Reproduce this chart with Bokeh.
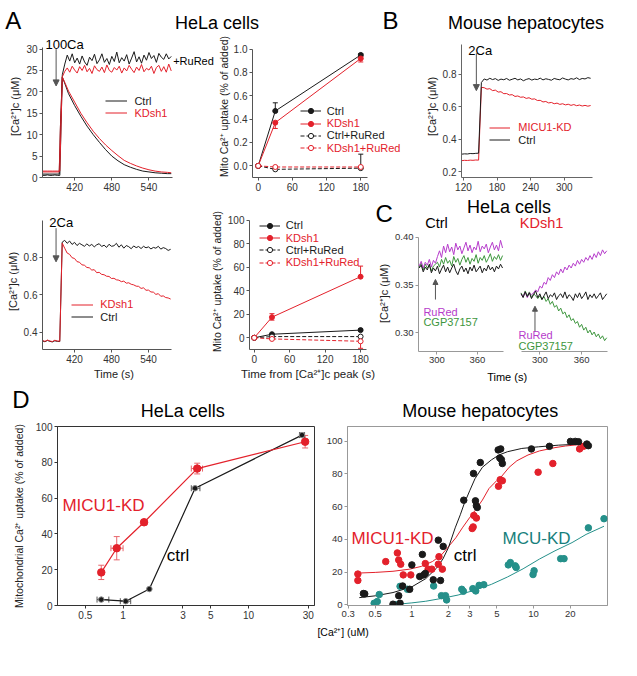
from bokeh.plotting import figure
from bokeh.models import (Label, Legend, LegendItem, Arrow, NormalHead, Whisker,
                          TeeHead, ColumnDataSource, FixedTicker, Range1d)
from bokeh.core.properties import value
from bokeh.layouts import row, column
from bokeh.embed import file_html
from bokeh.resources import INLINE

FONT = "Liberation Sans"
RED = "#e3212b"
BLK = "#1a1a1a"
MAG = "#b63ccb"
GRN = "#3d963d"
TEAL = "#25908a"
TEAL_TXT = "#17807c"

# ---------------- data ----------------
# A, top left: [Ca2+]c (uM) after 100 uM Ca2+
a1_t = [368, 380, 395, 397, 400, 405, 410, 420, 430, 440, 450, 460, 470, 480, 490, 500,
        510, 520, 530, 540, 550, 560, 570, 576]
a1_ctrl = [0.8, 0.8, 0.8, 12, 23.5, 21.6, 19.6, 16.8, 14.3, 12.0, 10.0, 8.2, 6.5, 5.0,
           3.9, 3.0, 2.4, 1.9, 1.5, 1.3, 1.1, 1.0, 0.9, 0.9]
a1_kd = [1.3, 1.3, 1.3, 12, 23.5, 21.9, 20.2, 17.6, 15.0, 12.8, 10.8, 9.1, 7.6, 6.3,
         5.1, 4.0, 3.3, 2.7, 2.2, 1.8, 1.5, 1.3, 1.2, 1.1]
a1_rr_t0 = 368
a1_rr_dt = 4
a1_rr_ctrl = [0.5, 0.5, 0.6, 0.5, 0.5, 0.6, 0.5, 0.5,
              24.0, 26.5, 28.6, 27.2, 28.9, 26.8, 27.9, 26.5, 28.4, 27.0,
              26.2, 28.1, 27.3, 28.8, 26.6, 27.5, 28.9, 26.9, 27.8, 26.4,
              28.3, 27.1, 29.3, 26.8, 28.0, 27.2, 28.7, 26.5, 27.9, 29.4,
              27.0, 28.2, 26.7, 28.6, 27.4, 29.2, 27.8, 28.5, 26.9, 29.0,
              28.1, 27.6, 28.9, 27.7, 28.3]
a1_rr_kd = [1.5, 1.5, 1.5, 1.5, 1.5, 1.5, 1.5, 1.5,
            23.5, 24.8, 25.6, 24.6, 26.0, 25.1, 24.4, 25.9, 25.0, 26.2,
            24.7, 25.5, 24.3, 26.1, 25.2, 24.8, 25.8, 24.5, 26.3, 25.0,
            24.6, 25.7, 25.1, 26.0, 24.4, 25.6, 24.9, 26.2, 25.3, 24.5,
            25.8, 25.0, 26.4, 24.7, 25.5, 25.1, 26.0, 24.3, 25.7, 26.2,
            24.8, 25.9, 24.6, 26.5, 24.9]
a1_arrow = (390, 30.0, 21.4)

# A, right: mito Ca2+ uptake vs time from peak
up_t = [0, 30, 180]
a2_ctrl = [0, 0.47, 0.95]
a2_ctrl_err = ([0, 0, 0.01], [0, 0.07, 0.01])
a2_kd = [0, 0.37, 0.92]
a2_kd_err = ([0, 0.05, 0.03], [0, 0, 0.02])
a2_ctrl_rr = [0, -0.03, -0.02]
a2_ctrl_rr_err = ([0, 0, 0], [0, 0, 0.12])
a2_kd_rr = [0, -0.01, -0.01]

a4_ctrl = [0, 3, 6.5]
a4_ctrl_err = ([0, 0, 0], [0, 0, 1])
a4_kd = [0, 17.5, 52]
a4_kd_err = ([0, 2.5, 0], [0, 3, 9])
a4_ctrl_rr = [0, 1, 1]
a4_kd_rr = [0, -1, -3]
a4_kd_rr_err = ([0, 0, 6], [0, 0, 0])

# A, bottom left: [Ca2+]c (uM) after 2 uM Ca2+
a3_t0 = 368
a3_dt = 4
a3_ctrl = [0.352, 0.348, 0.355, 0.350, 0.347, 0.353, 0.350, 0.349, 0.880,
           0.890, 0.874, 0.886, 0.868, 0.879, 0.862, 0.874, 0.866, 0.858, 0.871,
           0.860, 0.868, 0.855, 0.866, 0.872, 0.857, 0.864, 0.852, 0.869, 0.858,
           0.861, 0.874, 0.853, 0.866, 0.848, 0.862, 0.856, 0.845, 0.860, 0.851,
           0.857, 0.846, 0.858, 0.850, 0.855, 0.844, 0.852, 0.848, 0.858, 0.843,
           0.851, 0.846, 0.836, 0.842]
a3_kd = [0.355, 0.350, 0.357, 0.352, 0.349, 0.356, 0.352, 0.351, 0.875,
         0.848, 0.822, 0.815, 0.797, 0.793, 0.776, 0.773, 0.759, 0.757, 0.745,
         0.743, 0.731, 0.733, 0.717, 0.719, 0.708, 0.706, 0.698, 0.697, 0.686,
         0.687, 0.679, 0.677, 0.669, 0.672, 0.661, 0.663, 0.655, 0.652, 0.645,
         0.644, 0.633, 0.636, 0.623, 0.624, 0.614, 0.613, 0.601, 0.605, 0.591,
         0.593, 0.584, 0.582, 0.576]
a3_arrow = (390, 0.955, 0.775)

# B: mouse hepatocytes, [Ca2+]c (uM)
b_t0 = 117
b_dt = 5
b_ctrl = [0.308, 0.310, 0.309, 0.312, 0.311, 0.313, 0.314, 0.750,
          0.772, 0.765, 0.776, 0.768, 0.774, 0.763, 0.771, 0.767, 0.775, 0.764,
          0.770, 0.776, 0.766, 0.772, 0.761, 0.769, 0.774, 0.765, 0.771, 0.768,
          0.777, 0.766, 0.773, 0.769, 0.764, 0.775, 0.770, 0.767, 0.778, 0.771,
          0.766, 0.774, 0.770, 0.779, 0.768, 0.775, 0.772, 0.780, 0.776]
b_kd = [0.268, 0.270, 0.269, 0.271, 0.270, 0.272, 0.271, 0.720,
        0.718, 0.709, 0.712, 0.700, 0.703, 0.691, 0.693, 0.681, 0.682, 0.673,
        0.675, 0.664, 0.667, 0.659, 0.661, 0.652, 0.656, 0.647, 0.649, 0.639,
        0.640, 0.630, 0.633, 0.624, 0.627, 0.619, 0.623, 0.615, 0.619, 0.612,
        0.616, 0.609, 0.614, 0.607, 0.611, 0.605, 0.609, 0.604, 0.608]
b_arrow = (143, 0.93, 0.70)

# C: HeLa, RuRed / CGP37157 additions, [Ca2+]c (uM)
c_dt = 3
cl_t0 = 274
cl_ctrl = [0.368, 0.371, 0.364, 0.369, 0.366, 0.372, 0.363, 0.368, 0.365, 0.370,
           0.362, 0.367, 0.371, 0.364, 0.369, 0.363, 0.368, 0.372, 0.365, 0.361,
           0.367, 0.370, 0.364, 0.368, 0.362, 0.369, 0.365, 0.371, 0.364, 0.367,
           0.370, 0.363, 0.368, 0.365, 0.371, 0.366, 0.369, 0.364, 0.370, 0.367,
           0.372, 0.368]
cl_rured = [0.370, 0.375, 0.368, 0.374, 0.371, 0.377, 0.369, 0.376, 0.373,
            0.380, 0.386, 0.379, 0.391, 0.384, 0.393, 0.385, 0.390, 0.382, 0.394,
            0.387, 0.391, 0.383, 0.389, 0.395, 0.386, 0.392, 0.384, 0.390, 0.387,
            0.396, 0.385, 0.391, 0.388, 0.393, 0.384, 0.390, 0.395, 0.387, 0.392,
            0.386, 0.397, 0.389]
cl_cgp = [0.369, 0.373, 0.366, 0.372, 0.368, 0.371, 0.365, 0.370, 0.372,
          0.374, 0.369, 0.377, 0.372, 0.379, 0.373, 0.376, 0.370, 0.380, 0.374,
          0.378, 0.371, 0.377, 0.381, 0.374, 0.379, 0.372, 0.378, 0.375, 0.382,
          0.373, 0.379, 0.376, 0.381, 0.374, 0.378, 0.383, 0.375, 0.380, 0.377,
          0.382, 0.376, 0.381]
cr_t0 = 273
cr_ctrl = [0.341, 0.337, 0.343, 0.338, 0.342, 0.336, 0.340, 0.344, 0.337, 0.341,
           0.335, 0.339, 0.343, 0.336, 0.340, 0.338, 0.342, 0.335, 0.339, 0.341,
           0.337, 0.343, 0.336, 0.340, 0.338, 0.334, 0.341, 0.337, 0.342, 0.336,
           0.339, 0.343, 0.335, 0.340, 0.337, 0.341, 0.336, 0.339, 0.342, 0.335,
           0.338, 0.341]
cr_rured = [0.341, 0.338, 0.343, 0.337, 0.342, 0.340,
            0.342, 0.345, 0.343, 0.349, 0.347, 0.353, 0.351, 0.358, 0.355, 0.361,
            0.358, 0.364, 0.361, 0.367, 0.363, 0.369, 0.366, 0.371, 0.368, 0.373,
            0.370, 0.376, 0.372, 0.377, 0.374, 0.379, 0.376, 0.381, 0.377, 0.383,
            0.379, 0.385, 0.381, 0.387, 0.383, 0.386]
cr_cgp = [0.342, 0.338, 0.344, 0.339, 0.343, 0.337, 0.341, 0.339,
          0.336, 0.339, 0.335, 0.338, 0.333, 0.336, 0.330, 0.333, 0.327, 0.329,
          0.323, 0.326, 0.320, 0.322, 0.316, 0.319, 0.313, 0.315, 0.310, 0.312,
          0.306, 0.309, 0.303, 0.306, 0.300, 0.303, 0.298, 0.301, 0.296, 0.299,
          0.294, 0.297, 0.292, 0.295]
cl_arrow = (298, 0.335, 0.356)
cr_arrow = (293, 0.301, 0.328)

# D left: HeLa, uptake (% of added) vs [Ca2+] (uM)
dl_kd_x = [0.67, 0.89, 1.47, 3.9, 28.3]
dl_kd_y = [18.5, 32, 46.5, 76.5, 91.5]
dl_kd_yerr = [4, 6.5, 1.5, 3, 3.5]
dl_kd_xerr = ([0, 0.09, 0.05, 0.4, 1.0], [0, 0.11, 0.08, 0.4, 1.2])
dl_ctrl_x = [0.67, 1.05, 1.62, 3.75, 26.7]
dl_ctrl_y = [3.3, 2.4, 9.2, 65.5, 95.2]
dl_ctrl_xerr = ([0.05, 0.1, 0, 0.25, 1.2], [0.1, 0.1, 0, 0.35, 1.3])

# D right: mouse hepatocytes, individual points and fitted curves
dr_ctrl_x = [0.40, 0.41, 0.70, 0.78, 0.80, 0.84, 0.96, 1.0, 1.16, 1.22, 1.25, 1.29, 1.5,
             1.65, 1.72, 1.81, 2.67, 3.21, 3.33, 3.39, 3.45, 3.65, 5.12, 5.37, 5.28,
             5.44, 5.54, 9.6, 13.5, 20.1, 22.0, 23.4, 27.4, 28.2]
dr_ctrl_y = [6.9, 6.7, 0.4, 5.6, 1.0, 11.5, 9.5, 24.4, 17.3, 30.8, 18.3, 19.2, 15.3,
             39.5, 14.9, 35.7, 63.9, 80.2, 63.5, 60.5, 59.5, 86.9, 94.6, 95.2, 89.7,
             88.7, 86.3, 95.2, 96.8, 99.8, 99.8, 99.6, 98.2, 97.2]
dr_kd_x = [0.36, 0.36, 0.61, 0.76, 0.78, 0.81, 0.85, 0.98, 1.29, 1.36, 1.46, 1.65, 1.67,
           1.78, 3.13, 3.19, 3.23, 3.39, 5.15, 5.32, 5.54, 10.9, 14.4, 23.9, 25.7]
dr_kd_y = [18.8, 14.9, 26.4, 31.7, 27.4, 24.8, 18.3, 18.3, 25.2, 21.8, 21.8, 24.8, 29.4,
           21.8, 46.6, 47.6, 54.6, 53.0, 72.4, 76.4, 75.8, 81.0, 86.3, 95.2, 96.8]
dr_mcu_x = [0.49, 0.52, 0.54, 0.74, 0.80, 0.92, 1.51, 1.75, 1.89, 1.93, 2.57, 2.65, 3.17,
            3.35, 3.57, 3.9, 6.2, 6.45, 7.07, 7.2, 9.9, 10.1, 16.7, 17.8, 28.2, 37.9]
dr_mcu_y = [1.0, 2.0, 6.3, 0.0, 11.3, 9.5, 11.5, 5.6, 5.6, 3.0, 9.5, 8.3, 9.9, 8.5, 11.9,
            12.3, 24.4, 25.8, 23.8, 22.8, 18.5, 20.8, 28.2, 28.2, 47.0, 52.6]
fit_ctrl_x = [0.37, 0.5, 0.7, 1.0, 1.3, 1.6, 1.8, 2.0, 2.27, 2.5, 2.7, 3.0, 3.3, 3.8, 4.5,
              5.2, 6.1, 8, 11, 16, 22, 28]
fit_ctrl_y = [4.4, 5.5, 7.5, 11, 16, 22.5, 28, 35, 47, 55, 62, 70, 77, 84, 88.5, 91.5,
              93.5, 95.5, 96.5, 97.5, 98, 98]
fit_kd_x = [0.36, 0.5, 0.7, 0.96, 1.2, 1.48, 1.75, 2.0, 2.3, 2.6, 3.0, 3.3, 3.8, 4.3, 5.0,
            5.4, 6.3, 7.3, 9, 11.2, 15, 18.3, 25, 28]
fit_kd_y = [19.4, 19.8, 20.5, 21.8, 23.5, 26.5, 30.5, 35.5, 41, 47, 53.5, 57.5, 64, 71,
            76, 78, 84, 88, 91.5, 94, 96, 97, 98, 98.5]
fit_mcu_x = [0.8, 1.0, 1.3, 1.78, 2.4, 3.3, 4.5, 6.1, 8.2, 11.2, 15, 20.7, 27, 37.9]
fit_mcu_y = [0.5, 1.2, 2.2, 4, 6, 9, 12.5, 17, 22, 28, 33, 38, 43, 48]

# ---------------- helpers ----------------
S = 0.975
FRAMES = {}


def sc(v):
    return int(round(v * S))


def make_fig(cell, frame, xr=(0, 1), yr=(0, 1), x_log=False, axes=True, yaxis=True, ext=None):
    """cell: canvas rect; frame: rect where the ranges xr/yr sit (axes extent);
    ext: larger plotting area (same scale) so that texts are not clipped."""
    cx0, cy0, cx1, cy1 = cell
    fx0, fy0, fx1, fy1 = frame
    ex0, ey0, ex1, ey1 = ext if ext else frame
    kx = (xr[1] - xr[0]) / (fx1 - fx0)
    ky = (yr[1] - yr[0]) / (fy1 - fy0)
    xr2 = (xr[0] - (fx0 - ex0) * kx, xr[1] + (ex1 - fx1) * kx)
    yr2 = (yr[0] - (ey1 - fy1) * ky, yr[1] + (fy0 - ey0) * ky)
    kw = {}
    if not axes:
        kw = dict(x_axis_location=None, y_axis_location=None)
    elif not yaxis:
        kw = dict(y_axis_location=None)
    p = figure(width=sc(cx1) - sc(cx0), height=sc(cy1) - sc(cy0), title=None,
               x_range=Range1d(*(xr if x_log else xr2)), y_range=Range1d(*yr2),
               x_axis_type="log" if x_log else "linear",
               output_backend="svg", toolbar_location=None,
               min_border_left=sc(ex0) - sc(cx0), min_border_right=sc(cx1) - sc(ex1),
               min_border_top=sc(ey0) - sc(cy0), min_border_bottom=sc(cy1) - sc(ey1), **kw)
    p.outline_line_color = None
    p.grid.visible = False
    if ext and axes:
        p.xaxis.bounds = xr
        if yaxis:
            p.yaxis.bounds = yr
    FRAMES[id(p)] = (ex0, ey0, ex1, ey1)
    return p


def style_axes(p, xticks=None, yticks=None, color="#555", size="10px",
               xlabel=None, ylabel=None, lsize="11px", overrides=None, yoverrides=None):
    for ax in p.axis:
        ax.axis_line_color = color
        ax.major_tick_line_color = color
        ax.minor_tick_line_color = None
        ax.major_tick_out = 3
        ax.major_tick_in = 0
        ax.major_label_text_font = FONT
        ax.major_label_text_font_size = size
        ax.major_label_text_color = "#333"
        ax.major_label_standoff = 2
        ax.axis_label_text_font = FONT
        ax.axis_label_text_font_style = "normal"
        ax.axis_label_text_font_size = lsize
        ax.axis_label_text_color = "#222"
        ax.axis_label_standoff = 2
    if xticks is not None:
        p.xaxis.ticker = FixedTicker(ticks=xticks)
    if yticks is not None:
        p.yaxis.ticker = FixedTicker(ticks=yticks)
    if xlabel:
        p.xaxis.axis_label = xlabel
    if ylabel:
        p.yaxis.axis_label = ylabel
    if overrides:
        p.xaxis.major_label_overrides = overrides
    if yoverrides:
        p.yaxis.major_label_overrides = yoverrides


def put(p, txt, X, Y, size=12, color="black", align="left", angle=0):
    fx0, fy0, fx1, fy1 = FRAMES[id(p)]
    p.add_layout(Label(x=(X - fx0) * S, y=(fy1 - Y) * S, x_units="screen", y_units="screen",
                       text=txt, text_font=FONT, text_font_size=f"{size}px",
                       text_color=color, text_align=align, text_baseline="middle",
                       angle=angle))


def leg(p, rends, label, X, Y, color, gw=21, standoff=6, size=11):
    fx0, fy0, fx1, fy1 = FRAMES[id(p)]
    h = 13
    lg = Legend(items=[LegendItem(label=value(label), renderers=rends)],
                location=((X - fx0) * S, (fy1 - Y) * S - h / 2),
                padding=0, margin=0, spacing=0, glyph_width=gw, glyph_height=h,
                label_height=h, label_width=10, label_standoff=standoff,
                label_text_font=FONT, label_text_font_size=f"{size}px",
                label_text_color=color, label_text_baseline="middle",
                background_fill_alpha=0, border_line_alpha=0)
    p.add_layout(lg)


def whisk(p, xs, ys, lo, hi, color, dim="height", head=5):
    b, l, u = [], [], []
    for x, y, a, c in zip(xs, ys, lo, hi):
        if a > 0 or c > 0:
            if dim == "height":
                b.append(x); l.append(y - a); u.append(y + c)
            else:
                b.append(y); l.append(x - a); u.append(x + c)
    if not b:
        return
    src = ColumnDataSource(dict(base=b, lower=l, upper=u))
    p.add_layout(Whisker(base="base", lower="lower", upper="upper", source=src,
                         dimension=dim, line_color=color, line_width=1,
                         upper_head=TeeHead(size=head, line_color=color, line_width=1),
                         lower_head=TeeHead(size=head, line_color=color, line_width=1)))


def arrow(p, spec, color="#555", size=6):
    x, y0, y1 = spec
    p.add_layout(Arrow(end=NormalHead(size=size, fill_color=color, line_color=color, line_width=1),
                       x_start=x, y_start=y0, x_end=x, y_end=y1,
                       line_color=color, line_width=1))


def grid_t(t0, dt, vals):
    return [t0 + dt * i for i in range(len(vals))]


# ---------------- header ----------------
h1 = make_fig((0, 0, 637, 35), (0, 0, 637, 35), axes=False)
put(h1, "A", 13, 21, 24, align="center")
put(h1, "HeLa cells", 222, 23, 18, align="center")
put(h1, "B", 400, 21, 24, align="center")
put(h1, "Mouse hepatocytes", 539, 23, 18, align="center")

# ---------------- A1 ----------------
# (plots in one row share top/bottom borders, so all row-1 plots use the same extents)
A1 = make_fig((0, 35, 219, 199), (43, 48, 176, 182), xr=(368, 578), yr=(0, 30.45),
              ext=(43, 36, 219, 182))
style_axes(A1, xticks=[420, 480, 540], yticks=[0, 5, 10, 15, 20, 25, 30],
           ylabel="[Ca²⁺]c (μM)")
r_c = A1.line(a1_t, a1_ctrl, line_color=BLK, line_width=1)
r_k = A1.line(a1_t, a1_kd, line_color=RED, line_width=1)
A1.line(grid_t(a1_rr_t0, a1_rr_dt, a1_rr_ctrl), a1_rr_ctrl, line_color=BLK, line_width=1)
A1.line(grid_t(a1_rr_t0, a1_rr_dt, a1_rr_kd), a1_rr_kd, line_color=RED, line_width=1)
arrow(A1, a1_arrow)
put(A1, "100Ca", 46, 46, 13)
put(A1, "+RuRed", 177, 63, 11)
leg(A1, [r_c], "Ctrl", 108, 104, BLK, gw=22, standoff=7)
leg(A1, [r_k], "KDsh1", 108, 116, RED, gw=22, standoff=7)


def uptake(p, series, legend_pos):
    X, Y0, dy = legend_pos
    for i, (ys, err, color, dash, filled, lab) in enumerate(series):
        rl = p.line(up_t, ys, line_color=color, line_width=1, line_dash=dash)
        if err is not None:
            whisk(p, up_t, ys, err[0], err[1], color)
        rs = p.scatter(up_t, ys, marker="circle", size=5, line_color=color,
                       fill_color=color if filled else "white", line_width=1)
        leg(p, [rl, rs], lab, X, Y0 + i * dy, color)


# ---------------- A2 ----------------
A2 = make_fig((219, 35, 430, 199), (253, 50, 375, 182), xr=(-10, 192), yr=(-0.1, 1.0),
              ext=(253, 36, 430, 182))
style_axes(A2, xticks=[0, 60, 120, 180], yticks=[0, 0.2, 0.4, 0.6, 0.8, 1.0],
           ylabel="Mito Ca²⁺ uptake (% of added)", lsize="10.5px",
           yoverrides={0: "0.0", 1: "1.0"})
A2.yaxis.axis_label_standoff = 1
uptake(A2, [
    (a2_ctrl, a2_ctrl_err, BLK, "solid", True, "Ctrl"),
    (a2_kd, a2_kd_err, RED, "solid", True, "KDsh1"),
    (a2_ctrl_rr, a2_ctrl_rr_err, BLK, "4 2", False, "Ctrl+RuRed"),
    (a2_kd_rr, None, RED, "4 2", False, "KDsh1+RuRed"),
], (302, 114, 12.7))

# ---------------- B ----------------
B = make_fig((430, 35, 637, 199), (473, 45, 607, 182), xr=(116.5, 349.6), yr=(0.164, 0.986),
             ext=(473, 36, 630, 182))
style_axes(B, xticks=[120, 180, 240, 300], yticks=[0.2, 0.4, 0.6, 0.8], color="#666",
           ylabel="[Ca²⁺]c (μM)")
rb_k = B.line(grid_t(b_t0, b_dt, b_kd), b_kd, line_color=RED, line_width=1)
rb_c = B.line(grid_t(b_t0, b_dt, b_ctrl), b_ctrl, line_color=BLK, line_width=1)
arrow(B, b_arrow)
put(B, "2Ca", 480, 52, 13)
leg(B, [rb_k], "MICU1-KD", 502, 131, RED, standoff=8)
leg(B, [rb_c], "Ctrl", 502, 144, BLK, standoff=8)

# ---------------- A3 ----------------
A3 = make_fig((0, 199, 200, 395), (43, 225, 176, 358), xr=(368, 578), yr=(0.3065, 0.997),
              ext=(43, 218, 190, 358))
style_axes(A3, xticks=[420, 480, 540], yticks=[0.4, 0.6, 0.8],
           ylabel="[Ca²⁺]c (μM)", xlabel="Time (s)")
r3_c = A3.line(grid_t(a3_t0, a3_dt, a3_ctrl), a3_ctrl, line_color=BLK, line_width=1)
r3_k = A3.line(grid_t(a3_t0, a3_dt, a3_kd), a3_kd, line_color=RED, line_width=1)
arrow(A3, a3_arrow)
put(A3, "2Ca", 50, 228, 13)
leg(A3, [r3_k], "KDsh1", 73, 312, RED, gw=22, standoff=7)
leg(A3, [r3_c], "Ctrl", 73, 325, BLK, gw=22, standoff=7)

# ---------------- A4 ----------------
A4 = make_fig((200, 199, 385, 395), (255, 225, 375, 358), xr=(-8, 190), yr=(-10, 100),
              ext=(255, 218, 375, 358))
style_axes(A4, xticks=[0, 60, 120, 180], yticks=[0, 20, 40, 60, 80, 100],
           ylabel="Mito Ca²⁺ uptake (% of added)", lsize="10.5px",
           xlabel="Time from [Ca²⁺]c peak (s)")
A4.xaxis.axis_label_text_font_size = "11.5px"
uptake(A4, [
    (a4_ctrl, a4_ctrl_err, BLK, "solid", True, "Ctrl"),
    (a4_kd, a4_kd_err, RED, "solid", True, "KDsh1"),
    (a4_ctrl_rr, None, BLK, "4 2", False, "Ctrl+RuRed"),
    (a4_kd_rr, a4_kd_rr_err, RED, "4 2", False, "KDsh1+RuRed"),
], (265, 231, 12.7))

# ---------------- C ----------------
Ch = make_fig((385, 199, 637, 236), (385, 199, 637, 236), axes=False)
put(Ch, "C", 394, 219, 24, align="center")
put(Ch, "HeLa cells", 522, 212, 18, align="center")
put(Ch, "Ctrl", 436, 228, 14.5)
put(Ch, "KDsh1", 533, 228, 14.5, color=RED)

CL = make_fig((385, 236, 530, 377), (428, 243, 516, 360), xr=(273, 399), yr=(0.2806, 0.40),
              ext=(428, 241, 530, 360))
style_axes(CL, xticks=[300, 360], yticks=[0.30, 0.35, 0.40], color="#999",
           ylabel="[Ca²⁺]c (μM)", size="9.5px", yoverrides={0.3: "0.30", 0.4: "0.40"})
for vals, col in ((cl_cgp, GRN), (cl_rured, MAG), (cl_ctrl, BLK)):
    CL.line(grid_t(cl_t0, c_dt, vals), vals, line_color=col, line_width=1)
arrow(CL, cl_arrow, size=5)
put(CL, "RuRed", 433, 319, 11, color=MAG)
put(CL, "CGP37157", 433, 330, 11, color=GRN)

CR = make_fig((530, 236, 637, 377), (534, 243, 623, 360), xr=(273.5, 397.7), yr=(0.2806, 0.40),
              yaxis=False, ext=(530, 241, 637, 360))
style_axes(CR, xticks=[300, 360], color="#999", size="9.5px")
for vals, col in ((cr_cgp, GRN), (cr_rured, MAG), (cr_ctrl, BLK)):
    CR.line(grid_t(cr_t0, c_dt, vals), vals, line_color=col, line_width=1)
arrow(CR, cr_arrow, size=5)
put(CR, "RuRed", 531, 343, 11, color=MAG)
put(CR, "CGP37157", 531, 354, 11, color=GRN)

Cf = make_fig((385, 377, 637, 395), (385, 377, 637, 395), axes=False)
put(Cf, "Time (s)", 520, 386, 11, align="center")

# ---------------- D ----------------
Dh = make_fig((0, 395, 637, 433), (0, 395, 637, 433), axes=False)
put(Dh, "D", 21, 409, 24, align="center")
put(Dh, "HeLa cells", 187, 421, 18, align="center")
put(Dh, "Mouse hepatocytes", 492, 421, 18, align="center")

DL = make_fig((0, 433, 324, 640), (58, 437, 322, 621), xr=(0.30, 33.6), yr=(0, 100), x_log=True)
DL.outline_line_color = "#333"
style_axes(DL, xticks=[0.5, 1, 3, 5, 10, 30], yticks=[0, 20, 40, 60, 80, 100], color="#333",
           ylabel="Mitochondrial Ca²⁺ uptake (% of added)", lsize="10.5px",
           overrides={0.5: "0.5", 1: "1", 3: "3", 5: "5", 10: "10", 30: "30"})
DL.yaxis.axis_label_standoff = 8
whisk(DL, dl_kd_x, dl_kd_y, dl_kd_yerr, dl_kd_yerr, "#e8666c", head=6)
whisk(DL, dl_kd_x, dl_kd_y, dl_kd_xerr[0], dl_kd_xerr[1], "#e8666c", dim="width", head=6)
whisk(DL, dl_ctrl_x, dl_ctrl_y, dl_ctrl_xerr[0], dl_ctrl_xerr[1], "#555", dim="width", head=6)
DL.line(dl_ctrl_x, dl_ctrl_y, line_color=BLK, line_width=1.2)
DL.scatter(dl_ctrl_x, dl_ctrl_y, marker="circle", size=5.5, fill_color=BLK, line_color="#888")
DL.line(dl_kd_x, dl_kd_y, line_color=RED, line_width=1.2)
DL.scatter(dl_kd_x, dl_kd_y, marker="circle", size=7.5, fill_color=RED, line_color=RED)
put(DL, "MICU1-KD", 63, 518, 17, color=RED)
put(DL, "ctrl", 170, 570, 17)

DR = make_fig((324, 433, 637, 640), (356, 437, 623, 621), xr=(0.296, 40.5), yr=(-0.4, 108.9),
              x_log=True)
DR.outline_line_color = "#999"
style_axes(DR, xticks=[0.3, 0.5, 1, 2, 3, 5, 10, 20], yticks=[0, 20, 40, 60, 80, 100],
           color="#999", size="9.5px",
           overrides={0.3: "0.3", 0.5: "0.5", 1: "1", 2: "2", 3: "3", 5: "5", 10: "10", 20: "20"})
DR.line(fit_mcu_x, fit_mcu_y, line_color=TEAL, line_width=1)
DR.line(fit_kd_x, fit_kd_y, line_color=RED, line_width=1)
DR.line(fit_ctrl_x, fit_ctrl_y, line_color=BLK, line_width=1)
DR.scatter(dr_mcu_x, dr_mcu_y, marker="circle", size=6.5, fill_color=TEAL, line_color=TEAL)
DR.scatter(dr_kd_x, dr_kd_y, marker="circle", size=6.5, fill_color=RED, line_color=RED)
DR.scatter(dr_ctrl_x, dr_ctrl_y, marker="circle", size=6.5, fill_color=BLK, line_color=BLK)
put(DR, "MICU1-KD", 360, 552, 17, color=RED)
put(DR, "ctrl", 465, 570, 17)
put(DR, "MCU-KD", 515, 552, 17, color=TEAL_TXT)

Df = make_fig((0, 640, 637, 676), (0, 640, 637, 676), axes=False)
put(Df, "[Ca²⁺] (uM)", 325, 648, 10.5)

# ---------------- layout ----------------
layout = column(
    h1,
    row(A1, A2, B),
    row(A3, A4, column(Ch, row(CL, CR), Cf)),
    Dh,
    row(DL, DR),
    Df,
)

open("out.html", "w").write(file_html(layout, INLINE))
